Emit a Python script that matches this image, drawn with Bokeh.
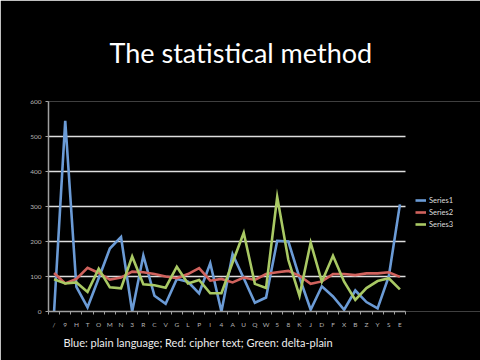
from bokeh.plotting import figure
from bokeh.models import Range1d, Title, Legend, LegendItem, SingleIntervalTicker, FixedTicker
from bokeh.embed import file_html
from bokeh.resources import INLINE

categories = ["/", "9", "H", "T", "O", "M", "N", "3", "R", "C", "V", "G", "L", "P", "I", "4",
              "A", "U", "Q", "W", "5", "8", "K", "J", "D", "F", "X", "B", "Z", "Y", "S", "E"]
series1 = [0, 545, 70, 12, 95, 180, 213, 0, 160, 45, 22, 93, 85, 52, 138, 0,
           164, 95, 25, 40, 202, 200, 97, 5, 72, 43, 5, 60, 27, 9, 100, 306]
series2 = [110, 80, 93, 125, 110, 91, 97, 114, 112, 107, 100, 95, 107, 124, 88, 93,
           83, 97, 90, 107, 112, 116, 102, 79, 86, 107, 107, 104, 109, 109, 112, 99]
series3 = [92, 80, 83, 56, 122, 69, 66, 157, 78, 75, 68, 128, 80, 90, 52, 52,
           140, 225, 79, 67, 327, 147, 45, 197, 85, 159, 85, 33, 67, 87, 95, 63]
series_names = ["Series1", "Series2", "Series3"]
colors = ["#6b9bd6", "#d0625d", "#a9c964"]
title_text = "The statistical method"
caption_text = "Blue: plain language; Red: cipher text; Green: delta-plain"
y_max = 600

FONT = "Lato"
n = len(categories)
xs = list(range(n))
lo, hi = -0.5, n - 0.5
# frame: 432 px wide, the categories take 357 px of it; the rest holds the legend
x_end = lo + n * 432 / 357

p = figure(width=480, height=360, output_backend="svg", toolbar_location=None,
           x_range=Range1d(lo, x_end), y_range=Range1d(0, y_max),
           min_border_left=48, min_border_right=0, min_border_top=100, min_border_bottom=49)
p.background_fill_color = "black"
p.border_fill_color = "black"
p.outline_line_color = None

renderers = []
for vals, c in zip([series1, series2, series3], colors):
    r = p.line(xs, vals, line_color=c, line_width=2.6, line_join="miter")
    renderers.append(r)

p.xgrid.grid_line_color = None
p.yaxis.ticker = SingleIntervalTicker(interval=100, num_minor_ticks=0)
p.ygrid.grid_line_color = "#dedede"
p.ygrid.grid_line_width = 1.5
try:
    p.ygrid.cross_bounds = (lo, hi)
except Exception:
    p.ygrid.grid_line_color = None
    gy = list(range(100, y_max + 1, 100))
    p.segment(x0=[lo] * len(gy), x1=[hi] * len(gy), y0=gy, y1=gy,
              line_color="#dedede", line_width=1.5, level="underlay")

p.xaxis.ticker = FixedTicker(ticks=xs, minor_ticks=[i - 0.5 for i in range(n + 1)])
p.xaxis.major_label_overrides = {i: c for i, c in enumerate(categories)}
p.xaxis.bounds = (lo, hi)
p.yaxis.bounds = (0, y_max)

for ax in (p.xaxis, p.yaxis):
    ax.axis_line_color = "#a0a0a0"
    ax.axis_line_width = 1.5
    ax.major_tick_line_color = "#a0a0a0"
    ax.minor_tick_line_color = "#a0a0a0"
    ax.major_label_text_color = "#b4b4b4"
    ax.major_label_text_font = FONT
    ax.major_label_text_font_size = "6.5px"
p.yaxis.major_tick_out = 3
p.yaxis.major_tick_in = 0
p.xaxis.major_tick_out = 0
p.xaxis.major_tick_in = 0
p.xaxis.minor_tick_out = 3
p.xaxis.minor_tick_in = 0
p.yaxis.major_label_standoff = 4
p.xaxis.major_label_standoff = 6

legend = Legend(items=[LegendItem(label=s, renderers=[r]) for s, r in zip(series_names, renderers)],
                location=(367, 81), padding=0, margin=0, spacing=0,
                glyph_width=11, glyph_height=12, label_standoff=3,
                label_text_font=FONT, label_text_font_size="7.5px", label_text_color="#dddddd",
                background_fill_alpha=0, border_line_color=None)
p.add_layout(legend, "center")

p.add_layout(Title(text=title_text, align="left", offset=61, text_font=FONT, text_font_size="27px",
                   text_font_style="normal", text_color="white", standoff=66), "above")
p.add_layout(Title(text=caption_text, align="left", offset=15, text_font=FONT,
                   text_font_size="11px", text_font_style="normal", text_color="#eeeeee",
                   standoff=6), "below")

open("out.html", "w").write(file_html(p, INLINE))
